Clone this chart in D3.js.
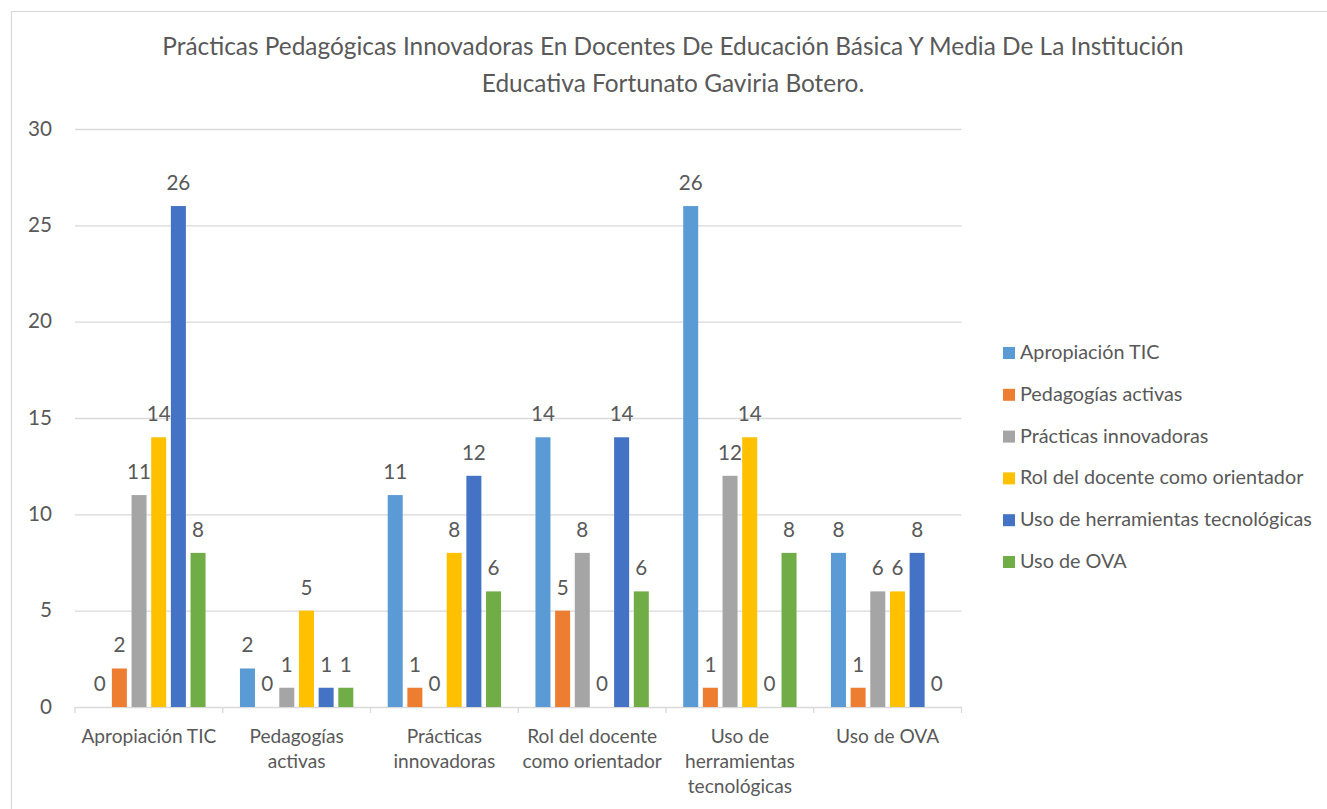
<!DOCTYPE html>
<html>
<head>
<meta charset="utf-8">
<script src="https://cdn.jsdelivr.net/npm/d3@7"></script>
<style>
  html, body { margin: 0; padding: 0; background: #fff; }
  svg { display: block; }
  text { font-family: Lato, "Open Sans", sans-serif; fill: #595959; }
</style>
</head>
<body>
<svg id="chart" width="1327" height="809"></svg>
<script>
// ---- DATA ----
const categories = ["Apropiación TIC", "Pedagogías activas", "Prácticas innovadoras",
  "Rol del docente como orientador", "Uso de herramientas tecnológicas", "Uso de OVA"];
const categoryLabelLines = [
  ["Apropiación TIC"],
  ["Pedagogías", "activas"],
  ["Prácticas", "innovadoras"],
  ["Rol del docente", "como orientador"],
  ["Uso de", "herramientas", "tecnológicas"],
  ["Uso de OVA"]
];
const seriesNames = ["Apropiación TIC", "Pedagogías activas", "Prácticas innovadoras",
  "Rol del docente como orientador", "Uso de herramientas tecnológicas", "Uso de OVA"];
const seriesColors = ["#5B9BD5", "#ED7D31", "#A5A5A5", "#FFC000", "#4472C4", "#70AD47"];
const serieApropiacionTIC   = [0, 2, 11, 14, 26, 8];
const seriePedagogias       = [2, 0, 1, 5, 1, 1];
const seriePracticas        = [11, 1, 0, 8, 12, 6];
const serieRolDocente       = [14, 5, 8, 0, 14, 6];
const serieUsoHerramientas  = [26, 1, 12, 14, 0, 8];
const serieUsoOVA           = [8, 1, 6, 6, 8, 0];
const seriesValues = [serieApropiacionTIC, seriePedagogias, seriePracticas,
  serieRolDocente, serieUsoHerramientas, serieUsoOVA];
const yTicks = [0, 5, 10, 15, 20, 25, 30];
const titleLines = ["Prácticas Pedagógicas Innovadoras En Docentes De Educación Básica Y Media De La Institución",
  "Educativa Fortunato Gaviria Botero."];

// ---- LAYOUT ----
const svg = d3.select("#chart");
const plotL = 75, plotR = 961.5, plotT = 129, plotB = 707;
const gridColor = "#d9d9d9";

function fitFont(sel, targetWidth, base) {
  sel.attr("font-size", base);
  const w = sel.node().getComputedTextLength();
  sel.attr("font-size", base * targetWidth / w);
  return base * targetWidth / w;
}

// outer border
svg.append("rect").attr("x", 11.5).attr("y", 11.5).attr("width", 1340).attr("height", 820)
  .attr("fill", "none").attr("stroke", gridColor).attr("stroke-width", 1.2);

const x0 = d3.scaleBand().domain(categories).range([plotL, plotR]).paddingInner(0).paddingOuter(0);
const x1 = d3.scaleBand().domain(seriesNames).range([0, x0.bandwidth()]).paddingInner(0.237).paddingOuter(0.875);
const y = d3.scaleLinear().domain([0, 30]).range([plotB, plotT]);

// grid
svg.append("g").selectAll("line").data(yTicks.filter(t => t > 0)).join("line")
  .attr("x1", plotL).attr("x2", plotR)
  .attr("y1", d => y(d) + 0.5).attr("y2", d => y(d) + 0.5)
  .attr("stroke", gridColor).attr("stroke-width", 1.3);

// y tick labels
const yl = svg.append("g").selectAll("text").data(yTicks).join("text")
  .attr("x", 52).attr("y", d => y(d) + 6.5)
  .attr("text-anchor", "end").text(d => d);
const tickFs = fitFont(yl.filter(d => d === 30), 24, 18);
yl.attr("font-size", tickFs);

// x axis line + ticks
const boundaries = categories.map(c => x0(c)).concat([plotR]);
svg.append("line").attr("x1", plotL).attr("x2", plotR).attr("y1", plotB + 0.5).attr("y2", plotB + 0.5)
  .attr("stroke", gridColor).attr("stroke-width", 1.3);
svg.append("g").selectAll("line").data(boundaries).join("line")
  .attr("x1", d => d).attr("x2", d => d).attr("y1", plotB).attr("y2", plotB + 6)
  .attr("stroke", gridColor).attr("stroke-width", 1.3);

// bars
const groups = svg.append("g").selectAll("g").data(categories).join("g")
  .attr("transform", c => `translate(${x0(c)},0)`);
const cellData = (c, ci) => seriesNames.map((s, si) => ({s, si, v: seriesValues[si][ci]}));
groups.selectAll("rect").data(cellData).join("rect")
  .attr("x", d => x1(d.s)).attr("width", x1.bandwidth())
  .attr("y", d => y(d.v)).attr("height", d => y(0) - y(d.v))
  .attr("fill", d => seriesColors[d.si]);

// data labels
groups.selectAll("text").data(cellData).join("text")
  .attr("x", d => x1(d.s) + x1.bandwidth() / 2)
  .attr("y", d => y(d.v) - 16)
  .attr("text-anchor", "middle").attr("font-size", tickFs)
  .text(d => d.v);

// category labels
const cl = svg.append("g").selectAll("g").data(categories).join("g")
  .attr("transform", c => `translate(${x0(c) + x0.bandwidth() / 2},0)`);
const clText = cl.selectAll("text").data((c, i) => categoryLabelLines[i]).join("text")
  .attr("x", 0).attr("y", (d, i) => 743 + i * 25)
  .attr("text-anchor", "middle").text(d => d);
const catFs = fitFont(clText.filter(d => d === "Apropiación TIC"), 135, 16);
clText.attr("font-size", catFs);

// title
const tt = svg.append("g").selectAll("text").data(titleLines).join("text")
  .attr("x", 673).attr("y", (d, i) => 55 + i * 37)
  .attr("text-anchor", "middle").text(d => d);
const titleFs = fitFont(tt.filter((d, i) => i === 0), 1022, 20);
tt.attr("font-size", titleFs);

// legend
const lg = svg.append("g").selectAll("g").data(seriesNames).join("g")
  .attr("transform", (d, i) => `translate(1003,${353 + i * 41.8})`);
lg.append("rect").attr("x", 0).attr("y", -6).attr("width", 12).attr("height", 12)
  .attr("fill", (d, i) => seriesColors[i]);
const lgText = lg.append("text").attr("x", 17).attr("y", 6).text(d => d);
const lgFs = fitFont(lgText.filter(d => d === "Uso de herramientas tecnológicas"), 292, 16);
lgText.attr("font-size", lgFs);
</script>
</body>
</html>
